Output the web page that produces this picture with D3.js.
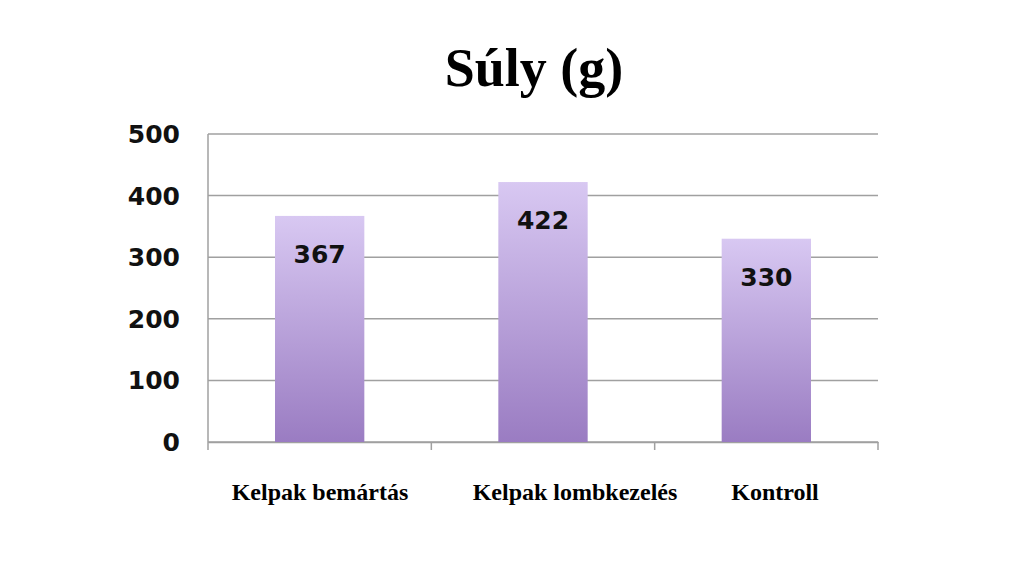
<!DOCTYPE html>
<html><head><meta charset="utf-8">
<script src="https://cdn.jsdelivr.net/npm/d3@7"></script>
<style>body{margin:0;background:#fff}</style></head>
<body><svg id="c" width="1024" height="571"></svg>
<script>
const categories = ["Kelpak bemártás", "Kelpak lombkezelés", "Kontroll"];
const values = [367, 422, 330];
const yTicks = [0, 100, 200, 300, 400, 500];
const title = "Súly (g)";

const svg = d3.select("#c");
const m = {l:208, r:878, t:134, b:442};
const x = d3.scaleBand().domain(categories).range([m.l, m.r]).paddingInner(0).paddingOuter(0);
const y = d3.scaleLinear().domain([0, 500]).range([m.b, m.t]);

const defs = svg.append("defs");
const g = defs.append("linearGradient").attr("id","gr").attr("x1",0).attr("y1",0).attr("x2",0).attr("y2",1);
g.append("stop").attr("offset","0%").attr("stop-color","#d8c8f2");
g.append("stop").attr("offset","100%").attr("stop-color","#9a7cc2");

svg.append("text").attr("x",534).attr("y",86).attr("text-anchor","middle")
  .attr("font-family","Liberation Serif").attr("font-weight","bold").attr("font-size",54).text(title);

svg.append("g").selectAll("line").data(yTicks).join("line")
  .attr("x1",m.l).attr("x2",m.r).attr("y1",d=>y(d)).attr("y2",d=>y(d))
  .attr("stroke","#a0a0a0").attr("stroke-width",1.5);
svg.append("line").attr("x1",m.l).attr("x2",m.l).attr("y1",m.t).attr("y2",m.b).attr("stroke","#a0a0a0").attr("stroke-width",1.5);

const xa = svg.append("g").attr("transform",`translate(0,${m.b})`)
  .call(d3.axisBottom(x).tickSize(0).tickFormat(""));
xa.select(".domain").attr("stroke","#a0a0a0").attr("stroke-width",1.5);
const bounds = [m.l, ...categories.map(c=>x(c)+x.bandwidth())];
xa.selectAll(".tb").data(bounds).join("line").attr("class","tb")
  .attr("x1",d=>d).attr("x2",d=>d).attr("y1",0).attr("y2",8).attr("stroke","#a0a0a0").attr("stroke-width",1.5);

svg.append("g").selectAll("text").data(yTicks).join("text")
  .attr("x",180).attr("y",d=>y(d)+9).attr("text-anchor","end")
  .attr("font-family","DejaVu Sans").attr("font-weight","bold").attr("font-size",25).attr("fill","#111").text(d=>d);

const bw = x.bandwidth()*0.4;
svg.append("g").selectAll("rect").data(values).join("rect")
  .attr("x",(d,i)=>x(categories[i])+x.bandwidth()/2-bw/2).attr("width",bw)
  .attr("y",d=>y(d)).attr("height",d=>y(0)-y(d)).attr("fill","url(#gr)");

svg.append("g").selectAll("text").data(values).join("text")
  .attr("x",(d,i)=>x(categories[i])+x.bandwidth()/2).attr("y",d=>y(d)+47)
  .attr("text-anchor","middle").attr("font-family","DejaVu Sans").attr("font-weight","bold")
  .attr("font-size",25).attr("fill","#111").text(d=>d);

svg.append("g").selectAll("text").data(categories).join("text")
  .attr("x",(d,i)=>[320,575,775][i]).attr("y",500).attr("text-anchor","middle")
  .attr("font-family","Liberation Serif").attr("font-weight","bold").attr("font-size",24).attr("fill","#000").text(d=>d);
</script></body></html>
